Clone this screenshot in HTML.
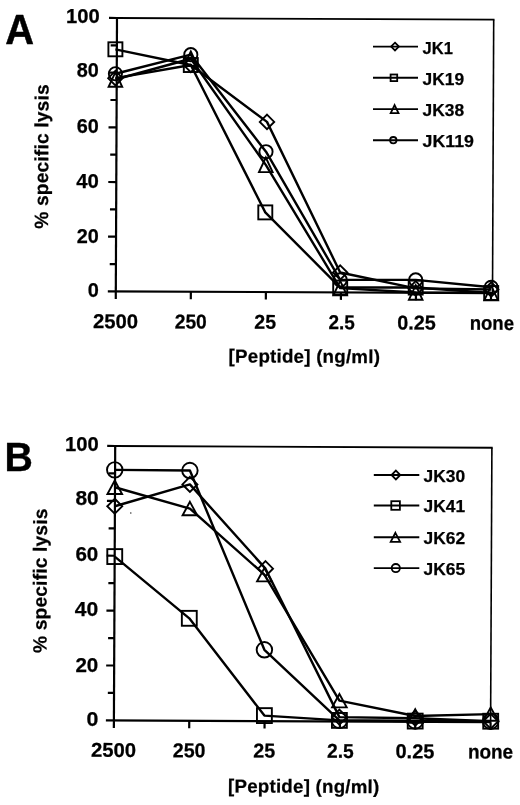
<!DOCTYPE html>
<html lang="en">
<head>
<meta charset="utf-8">
<title>Peptide titration lysis curves</title>
<style>
html,body{margin:0;padding:0;background:#fff;}
body{width:520px;height:805px;overflow:hidden;}
svg{display:block;}
svg text{font-family:"Liberation Sans",sans-serif;font-weight:bold;fill:#000;stroke:#000;stroke-width:.25px;stroke-linejoin:round;}
</style>
</head>
<body>
<svg width="520" height="805" viewBox="0 0 520 805">
<rect width="520" height="805" fill="#fff"/>
<g transform="rotate(0.25 117 18)">
<g stroke="#000" stroke-width="2.2" fill="none" stroke-linecap="butt">
<path d="M117 18H494.5" stroke-width="1.9"/>
<path d="M493.7 18V291.4" stroke-width="1.6"/>
<path d="M117 17.1V298.9"/>
<path d="M109 291.4H493.7"/>
<path d="M109 18H117M110.8 45.34H117M109 72.68H117M110.8 100.02H117M109 127.36H117M110.8 154.7H117M109 182.04H117M110.8 209.38H117M109 236.72H117M110.8 264.06H117"/>
<path d="M192.04 291.4V298.9M267.08 291.4V298.9M342.12 291.4V298.9M417.16 291.4V298.9M492.2 291.4V298.9"/>
</g>
</g>
<g stroke="#000" stroke-width="2.4" fill="none" stroke-linejoin="round">
<polyline points="115.4,78.15 190.8,65.02 267,121.89 340.2,272.54 415.7,288.39 491.2,289.49"/>
<polyline points="115.4,49.3 190.8,65.02 265.3,212.39 340.2,287.57 415.7,287.57 491.2,293.04"/>
<polyline points="115.4,79.51 190.8,58.74 265.8,164.82 340.2,288.12 415.7,292.49 491.2,292.9"/>
<polyline points="115.4,73.77 190.8,54.64 266,151.69 340.2,279.92 415.7,279.92 491.2,287.3"/>
</g>
<path d="M115.4 70.95L122.6 78.15L115.4 85.35L108.2 78.15Z" fill="none" stroke="#000" stroke-width="1.9" stroke-linejoin="miter"/>
<path d="M190.8 57.82L198 65.02L190.8 72.22L183.6 65.02Z" fill="none" stroke="#000" stroke-width="1.9" stroke-linejoin="miter"/>
<path d="M267 114.69L274.2 121.89L267 129.09L259.8 121.89Z" fill="none" stroke="#000" stroke-width="1.9" stroke-linejoin="miter"/>
<path d="M340.2 265.34L347.4 272.54L340.2 279.74L333 272.54Z" fill="none" stroke="#000" stroke-width="1.9" stroke-linejoin="miter"/>
<path d="M415.7 281.19L422.9 288.39L415.7 295.59L408.5 288.39Z" fill="none" stroke="#000" stroke-width="1.9" stroke-linejoin="miter"/>
<path d="M491.2 282.29L498.4 289.49L491.2 296.69L484 289.49Z" fill="none" stroke="#000" stroke-width="1.9" stroke-linejoin="miter"/>
<rect x="108.4" y="42.3" width="14" height="14" fill="none" stroke="#000" stroke-width="1.9"/>
<rect x="183.8" y="58.02" width="14" height="14" fill="none" stroke="#000" stroke-width="1.9"/>
<rect x="258.3" y="205.39" width="14" height="14" fill="none" stroke="#000" stroke-width="1.9"/>
<rect x="333.2" y="280.57" width="14" height="14" fill="none" stroke="#000" stroke-width="1.9"/>
<rect x="408.7" y="280.57" width="14" height="14" fill="none" stroke="#000" stroke-width="1.9"/>
<rect x="484.2" y="286.04" width="14" height="14" fill="none" stroke="#000" stroke-width="1.9"/>
<path d="M115.4 72.21L122.2 86.81L108.6 86.81Z" fill="none" stroke="#000" stroke-width="1.9" stroke-linejoin="miter"/>
<path d="M190.8 51.44L197.6 66.04L184 66.04Z" fill="none" stroke="#000" stroke-width="1.9" stroke-linejoin="miter"/>
<path d="M265.8 157.52L272.6 172.12L259 172.12Z" fill="none" stroke="#000" stroke-width="1.9" stroke-linejoin="miter"/>
<path d="M340.2 280.82L347 295.42L333.4 295.42Z" fill="none" stroke="#000" stroke-width="1.9" stroke-linejoin="miter"/>
<path d="M415.7 285.19L422.5 299.79L408.9 299.79Z" fill="none" stroke="#000" stroke-width="1.9" stroke-linejoin="miter"/>
<path d="M491.2 285.6L498 300.2L484.4 300.2Z" fill="none" stroke="#000" stroke-width="1.9" stroke-linejoin="miter"/>
<circle cx="115.4" cy="73.77" r="6.6" fill="none" stroke="#000" stroke-width="1.9"/>
<circle cx="190.8" cy="54.64" r="6.6" fill="none" stroke="#000" stroke-width="1.9"/>
<circle cx="266" cy="151.69" r="6.6" fill="none" stroke="#000" stroke-width="1.9"/>
<circle cx="340.2" cy="279.92" r="6.6" fill="none" stroke="#000" stroke-width="1.9"/>
<circle cx="415.7" cy="279.92" r="6.6" fill="none" stroke="#000" stroke-width="1.9"/>
<circle cx="491.2" cy="287.3" r="6.6" fill="none" stroke="#000" stroke-width="1.9"/>
<g transform="rotate(0.27 115.2 446)">
<g stroke="#000" stroke-width="2.2" fill="none" stroke-linecap="butt">
<path d="M115.2 446H492.7" stroke-width="1.9"/>
<path d="M491.9 446V720.4" stroke-width="1.6"/>
<path d="M115.2 445.1V727.9"/>
<path d="M107.2 720.4H491.9"/>
<path d="M107.2 446H115.2M109 473.44H115.2M107.2 500.88H115.2M109 528.32H115.2M107.2 555.76H115.2M109 583.2H115.2M107.2 610.64H115.2M109 638.08H115.2M107.2 665.52H115.2M109 692.96H115.2"/>
<path d="M190.54 720.4V727.9M265.88 720.4V727.9M341.22 720.4V727.9M416.56 720.4V727.9M491.9 720.4V727.9"/>
</g>
</g>
<g stroke="#000" stroke-width="2.4" fill="none" stroke-linejoin="round">
<polyline points="114.75,506.23 189.9,484.42 265.5,568.66 339.4,717.11 415.2,718.2 490.7,721.22"/>
<polyline points="114.75,556.58 189.3,618.32 264.4,715.6 339.4,720.4 415.2,721.09 490.7,721.22"/>
<polyline points="114.75,487.24 189.9,508.56 264.4,574.69 339.4,700.64 415.2,716.01 490.7,714.09"/>
<polyline points="114.75,469.87 189.9,470.56 264.4,649.8 339.4,720.4 415.2,720.95 490.7,721.22"/>
</g>
<path d="M114.75 498.73L122.25 506.23L114.75 513.73L107.25 506.23Z" fill="none" stroke="#000" stroke-width="1.9" stroke-linejoin="miter"/>
<path d="M189.9 476.92L197.4 484.42L189.9 491.92L182.4 484.42Z" fill="none" stroke="#000" stroke-width="1.9" stroke-linejoin="miter"/>
<path d="M265.5 561.16L273 568.66L265.5 576.16L258 568.66Z" fill="none" stroke="#000" stroke-width="1.9" stroke-linejoin="miter"/>
<path d="M339.4 709.61L346.9 717.11L339.4 724.61L331.9 717.11Z" fill="none" stroke="#000" stroke-width="1.9" stroke-linejoin="miter"/>
<path d="M415.2 710.7L422.7 718.2L415.2 725.7L407.7 718.2Z" fill="none" stroke="#000" stroke-width="1.9" stroke-linejoin="miter"/>
<path d="M490.7 713.72L498.2 721.22L490.7 728.72L483.2 721.22Z" fill="none" stroke="#000" stroke-width="1.9" stroke-linejoin="miter"/>
<rect x="107.3" y="549.13" width="14.9" height="14.9" fill="none" stroke="#000" stroke-width="1.9"/>
<rect x="181.85" y="610.87" width="14.9" height="14.9" fill="none" stroke="#000" stroke-width="1.9"/>
<rect x="256.95" y="708.15" width="14.9" height="14.9" fill="none" stroke="#000" stroke-width="1.9"/>
<rect x="331.95" y="712.95" width="14.9" height="14.9" fill="none" stroke="#000" stroke-width="1.9"/>
<rect x="407.75" y="713.64" width="14.9" height="14.9" fill="none" stroke="#000" stroke-width="1.9"/>
<rect x="483.25" y="713.77" width="14.9" height="14.9" fill="none" stroke="#000" stroke-width="1.9"/>
<path d="M114.75 480.54L122.05 493.94L107.45 493.94Z" fill="none" stroke="#000" stroke-width="1.9" stroke-linejoin="miter"/>
<path d="M189.9 501.86L197.2 515.26L182.6 515.26Z" fill="none" stroke="#000" stroke-width="1.9" stroke-linejoin="miter"/>
<path d="M264.4 567.99L271.7 581.39L257.1 581.39Z" fill="none" stroke="#000" stroke-width="1.9" stroke-linejoin="miter"/>
<path d="M339.4 693.94L346.7 707.34L332.1 707.34Z" fill="none" stroke="#000" stroke-width="1.9" stroke-linejoin="miter"/>
<path d="M415.2 709.31L422.5 722.71L407.9 722.71Z" fill="none" stroke="#000" stroke-width="1.9" stroke-linejoin="miter"/>
<path d="M490.7 707.39L498 720.79L483.4 720.79Z" fill="none" stroke="#000" stroke-width="1.9" stroke-linejoin="miter"/>
<circle cx="114.75" cy="469.87" r="7.75" fill="none" stroke="#000" stroke-width="1.9"/>
<circle cx="189.9" cy="470.56" r="7.75" fill="none" stroke="#000" stroke-width="1.9"/>
<circle cx="264.4" cy="649.8" r="7.75" fill="none" stroke="#000" stroke-width="1.9"/>
<circle cx="339.4" cy="720.4" r="7.75" fill="none" stroke="#000" stroke-width="1.9"/>
<circle cx="415.2" cy="720.95" r="7.75" fill="none" stroke="#000" stroke-width="1.9"/>
<circle cx="490.7" cy="721.22" r="7.75" fill="none" stroke="#000" stroke-width="1.9"/>
<text x="5.3" y="43.7" font-size="42" text-anchor="start" textLength="28.8" lengthAdjust="spacingAndGlyphs" style="stroke-width:.5px">A</text>
<text x="4.4" y="471.2" font-size="41" text-anchor="start" textLength="28.4" lengthAdjust="spacingAndGlyphs" style="stroke-width:.4px">B</text>
<text x="66.04" y="23" font-size="20" text-anchor="start" textLength="33.74" lengthAdjust="spacingAndGlyphs">100</text>
<text x="76.8" y="77.1" font-size="20" text-anchor="start" textLength="22.08" lengthAdjust="spacingAndGlyphs">80</text>
<text x="76.8" y="132.9" font-size="20" text-anchor="start" textLength="22.08" lengthAdjust="spacingAndGlyphs">60</text>
<text x="76.2" y="187.8" font-size="20" text-anchor="start" textLength="22.68" lengthAdjust="spacingAndGlyphs">40</text>
<text x="76.8" y="243.4" font-size="20" text-anchor="start" textLength="22.08" lengthAdjust="spacingAndGlyphs">20</text>
<text x="87.8" y="296.7" font-size="20" text-anchor="start" textLength="11.08" lengthAdjust="spacingAndGlyphs">0</text>
<text x="65.04" y="450.7" font-size="20" text-anchor="start" textLength="33.74" lengthAdjust="spacingAndGlyphs">100</text>
<text x="75.4" y="504.6" font-size="20" text-anchor="start" textLength="23.28" lengthAdjust="spacingAndGlyphs">80</text>
<text x="75.4" y="560.7" font-size="20" text-anchor="start" textLength="22.88" lengthAdjust="spacingAndGlyphs">60</text>
<text x="74.8" y="616" font-size="20" text-anchor="start" textLength="23.48" lengthAdjust="spacingAndGlyphs">40</text>
<text x="75.4" y="671.7" font-size="20" text-anchor="start" textLength="22.88" lengthAdjust="spacingAndGlyphs">20</text>
<text x="86.4" y="725.6" font-size="20" text-anchor="start" textLength="11.88" lengthAdjust="spacingAndGlyphs">0</text>
<g transform="rotate(0.25 115 328.2)">
<text x="92.9" y="328.2" font-size="20" text-anchor="start" textLength="45.08" lengthAdjust="spacingAndGlyphs">2500</text>
<text x="174.7" y="328.2" font-size="20" text-anchor="start" textLength="32.08" lengthAdjust="spacingAndGlyphs">250</text>
<text x="254.3" y="328.2" font-size="20" text-anchor="start" textLength="21.68" lengthAdjust="spacingAndGlyphs">25</text>
<text x="328.6" y="328.2" font-size="20" text-anchor="start" textLength="26.28" lengthAdjust="spacingAndGlyphs">2.5</text>
<text x="397.2" y="328.2" font-size="20" text-anchor="start" textLength="38.48" lengthAdjust="spacingAndGlyphs">0.25</text>
<text x="469.7" y="328.2" font-size="20" text-anchor="start" textLength="44.28" lengthAdjust="spacingAndGlyphs">none</text>
</g>
<g transform="rotate(0.25 113 756.9)">
<text x="91" y="756.9" font-size="20" text-anchor="start" textLength="45.08" lengthAdjust="spacingAndGlyphs">2500</text>
<text x="172.8" y="756.9" font-size="20" text-anchor="start" textLength="32.68" lengthAdjust="spacingAndGlyphs">250</text>
<text x="253.3" y="756.9" font-size="20" text-anchor="start" textLength="21.88" lengthAdjust="spacingAndGlyphs">25</text>
<text x="327.1" y="756.9" font-size="20" text-anchor="start" textLength="26.68" lengthAdjust="spacingAndGlyphs">2.5</text>
<text x="395.5" y="756.9" font-size="20" text-anchor="start" textLength="38.88" lengthAdjust="spacingAndGlyphs">0.25</text>
<text x="467.9" y="756.9" font-size="20" text-anchor="start" textLength="45.28" lengthAdjust="spacingAndGlyphs">none</text>
</g>
<text x="228.6" y="362.7" font-size="18.7" text-anchor="start" textLength="151.3" lengthAdjust="spacing" transform="rotate(0.25 304 362)">[Peptide] (ng/ml)</text>
<text x="228" y="792.7" font-size="18.7" text-anchor="start" textLength="151.3" lengthAdjust="spacing" transform="rotate(0.25 303 792)">[Peptide] (ng/ml)</text>
<text transform="translate(47.9 228.8) rotate(-89.75)" font-size="19.2" textLength="144.4" lengthAdjust="spacing">% specific lysis</text>
<text transform="translate(46.4 653.0) rotate(-89.75)" font-size="19.2" textLength="144.4" lengthAdjust="spacing">% specific lysis</text>
<path d="M373 46.6H418" stroke="#000" stroke-width="1.9" fill="none"/>
<path d="M395 42.7L398.9 46.6L395 50.5L391.1 46.6Z" fill="none" stroke="#000" stroke-width="1.8" stroke-linejoin="miter"/>
<text x="422.6" y="53.6" font-size="17.3" text-anchor="start" textLength="30.3" lengthAdjust="spacingAndGlyphs">JK1</text>
<path d="M373 77.8H418" stroke="#000" stroke-width="1.9" fill="none"/>
<rect x="390.6" y="74.5" width="6.6" height="6.6" fill="none" stroke="#000" stroke-width="1.8"/>
<text x="422.6" y="84.8" font-size="17.3" text-anchor="start" textLength="41.6" lengthAdjust="spacingAndGlyphs">JK19</text>
<path d="M373 109.1H418" stroke="#000" stroke-width="1.9" fill="none"/>
<path d="M394.6 105.1L398.5 113.1L390.7 113.1Z" fill="none" stroke="#000" stroke-width="1.8" stroke-linejoin="miter"/>
<text x="422.6" y="116.1" font-size="17.3" text-anchor="start" textLength="41.6" lengthAdjust="spacingAndGlyphs">JK38</text>
<path d="M373 140.2H418" stroke="#000" stroke-width="1.9" fill="none"/>
<circle cx="393.3" cy="140.2" r="3.2" fill="none" stroke="#000" stroke-width="1.8"/>
<text x="422.6" y="147.2" font-size="17.3" text-anchor="start" textLength="51.4" lengthAdjust="spacingAndGlyphs">JK119</text>
<path d="M373.8 475H419.3" stroke="#000" stroke-width="1.9" fill="none"/>
<path d="M395.9 470.6L400.3 475L395.9 479.4L391.5 475Z" fill="none" stroke="#000" stroke-width="1.8" stroke-linejoin="miter"/>
<text x="423.6" y="481.8" font-size="17.3" text-anchor="start" textLength="41.6" lengthAdjust="spacingAndGlyphs">JK30</text>
<path d="M373.8 505.5H419.3" stroke="#000" stroke-width="1.9" fill="none"/>
<rect x="391.3" y="501.2" width="8.6" height="8.6" fill="none" stroke="#000" stroke-width="1.8"/>
<text x="423.6" y="512.3" font-size="17.3" text-anchor="start" textLength="41.6" lengthAdjust="spacingAndGlyphs">JK41</text>
<path d="M373.8 537.3H419.3" stroke="#000" stroke-width="1.9" fill="none"/>
<path d="M395.4 532.8L400.1 541.8L390.7 541.8Z" fill="none" stroke="#000" stroke-width="1.8" stroke-linejoin="miter"/>
<text x="423.6" y="544.1" font-size="17.3" text-anchor="start" textLength="41.6" lengthAdjust="spacingAndGlyphs">JK62</text>
<path d="M373.8 568.1H419.3" stroke="#000" stroke-width="1.9" fill="none"/>
<circle cx="395.8" cy="568.1" r="4.1" fill="none" stroke="#000" stroke-width="1.8"/>
<text x="423.6" y="574.9" font-size="17.3" text-anchor="start" textLength="41.6" lengthAdjust="spacingAndGlyphs">JK65</text>
<circle cx="130.8" cy="513" r="0.8" fill="#333"/>
</svg>
</body>
</html>
